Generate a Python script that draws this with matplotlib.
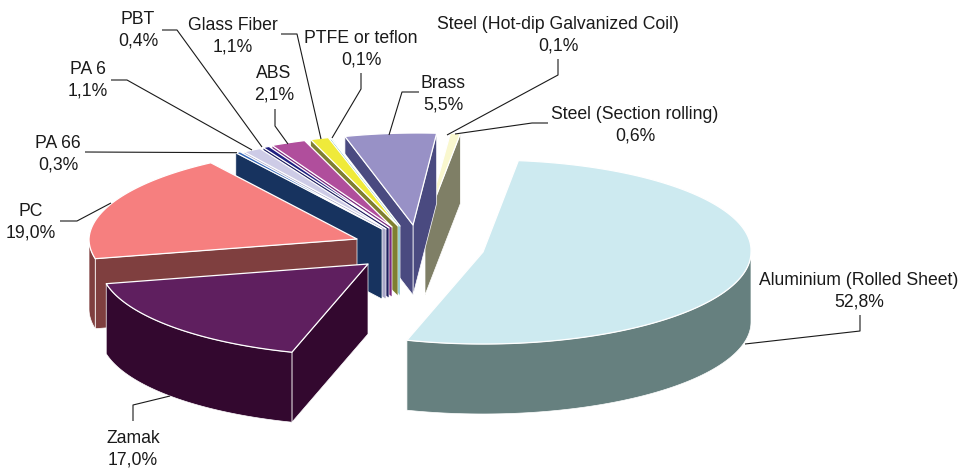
import numpy as np
import matplotlib
matplotlib.use("Agg")
import matplotlib.pyplot as plt
from matplotlib.patches import Polygon

materials = ["Aluminium (Rolled Sheet)", "Zamak", "PC", "PA 66", "PA 6", "PBT", "ABS",
             "Glass Fiber", "PTFE or teflon", "Brass", "Steel (Hot-dip Galvanized Coil)",
             "Steel (Section rolling)"]
shares = [52.8, 17.0, 19.0, 0.3, 1.1, 0.4, 2.1, 1.1, 0.1, 5.5, 0.1, 0.6]

top_colors = ["#CDEAF0", "#5F1F5F", "#F67F7F", "#3366B8", "#CDCBE6", "#1F1F80", "#B04E9C",
              "#EFEA3A", "#66CCCC", "#9891C6", "#FFFFFA", "#F9F7CE"]
wall_colors = ["#66807F", "#33082F", "#7F3F3F", "#17335F", "#A8A6C8", "#1F1F60", "#7B2A80",
               "#7F7F30", "#66B4B4", "#4A4A80", "#FFFFFF", "#7F7F66"]

# layout of the exploded pie, in pixels
apex = [(483, 252), (368, 264), (357, 239), (382, 229), (386, 229), (389, 228), (392, 227),
        (398, 226), (400, 226), (413, 225), (422, 225), (425, 225)]
draw_order = [0, 10, 11, 9, 8, 7, 6, 5, 4, 3, 2, 1]
RX, RY, DEPTH, SKEW, START = 268, 92, 70, 0.05, 6.6

label_xy = [(859, 291), (133, 449), (31, 222), (58, 154), (88, 80), (138, 30), (274, 84),
            (233, 36), (361, 49), (443, 94), (558, 35), (635, 125)]
leaders = [[(860, 315), (860, 331), (745, 344)],
           [(133, 421), (133, 405), (170, 396)],
           [(60, 221), (77, 221), (111, 203)],
           [(85, 152), (237, 152.7)],
           [(111, 80), (127, 80), (252, 150)],
           [(162, 30), (177, 30), (262, 147)],
           [(275, 109), (275, 126), (288, 144)],
           [(281, 34), (297, 34), (321, 139)],
           [(361, 73), (361, 89), (332, 138)],
           [(419, 92), (402, 92), (389, 135)],
           [(558, 59), (558, 75), (447, 135)],
           [(548, 123), (532, 123), (455, 134)]]

fig = plt.figure(figsize=(9.6, 4.68), dpi=100)
ax = fig.add_axes([0, 0, 1, 1])
ax.set_xlim(0, 960)
ax.set_ylim(468, 0)
ax.axis("off")
plt.rcParams["font.family"] = ["Liberation Sans", "DejaVu Sans"]

widths = np.array(shares) * 360.0 / sum(shares)
starts = START + np.concatenate([[0], np.cumsum(widths)[:-1]])


def rim(cx, cy, t):
    t = np.radians(t)
    dx, dy = RX * np.sin(t), -RY * np.cos(t)
    return cx + dx + SKEW * np.maximum(-dy, 0), cy + dy


def wall(xs, ys, color, z):
    pts = list(zip(xs, ys)) + list(zip(xs[::-1], (np.asarray(ys) + DEPTH)[::-1]))
    ax.add_patch(Polygon(pts, closed=True, fc=color, ec="white", lw=0.5, zorder=z, joinstyle="round"))


for z, i in enumerate(draw_order):
    a0, a1 = starts[i], starts[i] + widths[i]
    cx, cy = apex[i]
    ts = np.linspace(a0, a1, max(int(widths[i] * 2), 3))
    xs, ys = rim(cx, cy, ts)
    base = z * 10
    if np.sin(np.radians(a1)) > 0:
        x1, y1 = rim(cx, cy, a1)
        wall(np.array([cx, x1]), np.array([cy, y1]), wall_colors[i], base + 1)
    if np.sin(np.radians(a0)) < 0:
        x0, y0 = rim(cx, cy, a0)
        wall(np.array([cx, x0]), np.array([cy, y0]), wall_colors[i], base + 1)
    lo, hi = max(a0, 90), min(a1, 270)
    if hi > lo:
        tw = np.linspace(lo, hi, 150)
        wx, wy = rim(cx, cy, tw)
        wall(wx, wy, wall_colors[i], base + 2)
    pts = [(cx, cy)] + list(zip(xs, ys))
    ax.add_patch(Polygon(pts, closed=True, fc=top_colors[i], ec="white", lw=0.9, zorder=base + 3,
                         joinstyle="round"))

for path in leaders:
    px, py = zip(*path)
    ax.plot(px, py, color="#1a1a1a", lw=0.8, zorder=500, solid_capstyle="butt")

for name, share, (x, y) in zip(materials, shares, label_xy):
    txt = f"{name}\n{share:.1f}%".replace(".", ",")
    ax.text(x, y, txt, ha="center", va="center", fontsize=12.7, color="#1a1a1a",
            linespacing=1.32, zorder=600)

fig.savefig("out.png", dpi=100)
